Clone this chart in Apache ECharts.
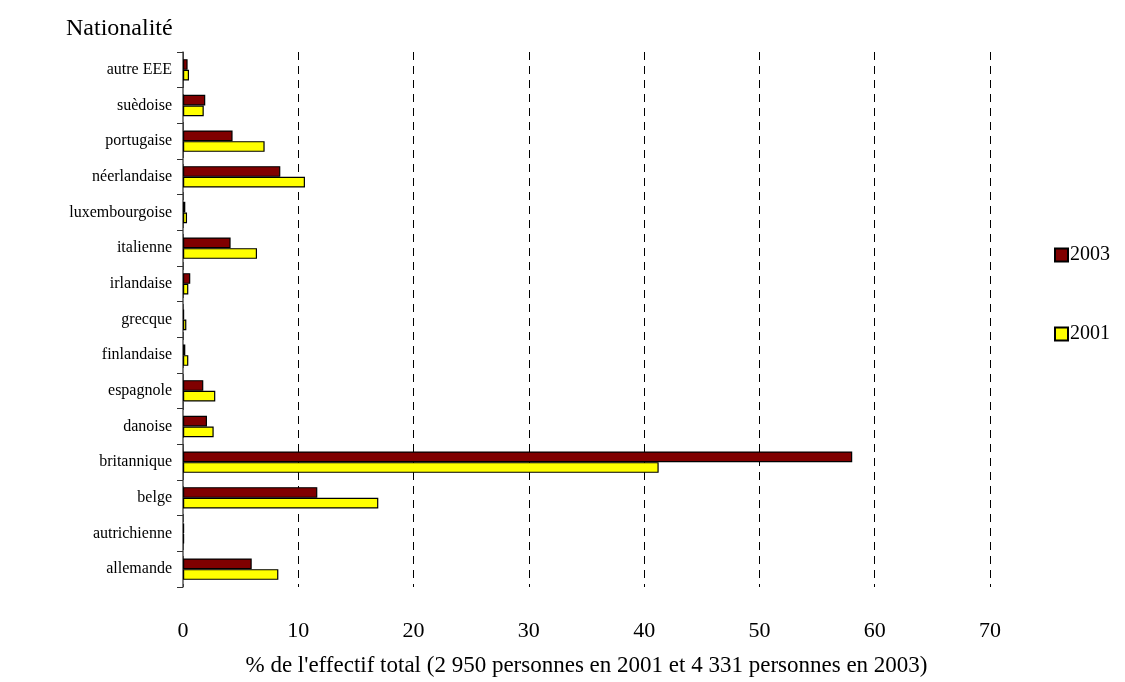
<!DOCTYPE html>
<html>
<head>
<meta charset="utf-8">
<script src="https://cdn.jsdelivr.net/npm/echarts@6/dist/echarts.min.js"></script>
<style>html,body{margin:0;padding:0;background:#fff;}#c{width:1125px;height:682px;}</style>
</head>
<body>
<div id="c"></div>
<script>
const categories = ['allemande','autrichienne','belge','britannique','danoise','espagnole','finlandaise','grecque','irlandaise','italienne','luxembourgoise','néerlandaise','portugaise','suèdoise','autre EEE'];
const values2003 = [5.96, 0.1, 11.65, 58.05, 2.08, 1.76, 0.2, 0.1, 0.63, 4.13, 0.2, 8.44, 4.3, 1.93, 0.4];
const values2001 = [8.27, 0.1, 16.94, 41.26, 2.66, 2.8, 0.46, 0.29, 0.46, 6.42, 0.35, 10.58, 7.08, 1.8, 0.52];
const xTicks = [0, 10, 20, 30, 40, 50, 60, 70];

const font = '"Liberation Serif", "DejaVu Serif", serif';
const chart = echarts.init(document.getElementById('c'));
chart.setOption({
  animation: false,
  title: {
    text: 'Nationalité', left: 61, top: 12,
    textStyle: { fontFamily: font, fontSize: 24, fontWeight: 'normal', color: '#000' }
  },
  legend: {
    orient: 'vertical', left: 1049, top: 240, itemGap: 59,
    itemWidth: 13, itemHeight: 13, icon: 'rect',
    data: ['2003', '2001'],
    textStyle: { fontFamily: font, fontSize: 20, color: '#000', padding: [0,0,0,-3] }
  },
  grid: { left: 183, right: 135, top: 52, bottom: 84, containLabel: false },
  xAxis: {
    type: 'value', min: xTicks[0], max: xTicks[xTicks.length-1], interval: 10,
    axisLine: { show: false }, axisTick: { show: false },
    splitLine: { show: true, lineStyle: { type: [8, 6], color: '#000', width: 1 } },
    axisLabel: { fontFamily: font, fontSize: 22, color: '#000', margin: 33 },
    name: "% de l'effectif total (2 950 personnes en 2001 et 4 331 personnes en 2003)",
    nameLocation: 'middle', nameGap: 67,
    nameTextStyle: { fontFamily: font, fontSize: 23, color: '#000' }
  },
  yAxis: {
    type: 'category', data: categories,
    axisLine: { show: true, lineStyle: { color: '#555', width: 1.5 } },
    axisTick: { show: true, length: 6, lineStyle: { color: '#333' } },
    axisLabel: { fontFamily: font, fontSize: 16, color: '#000', margin: 11 }
  },
  series: [
    { name: '2003', type: 'bar', data: values2003, barGap: '0%', barCategoryGap: '40%',
      itemStyle: { color: '#800000', borderColor: '#000', borderWidth: 1.2 } },
    { name: '2001', type: 'bar', data: values2001, barGap: '0%', barCategoryGap: '40%',
      itemStyle: { color: '#ffff00', borderColor: '#000', borderWidth: 1.2 } }
  ]
});
</script>
</body>
</html>
